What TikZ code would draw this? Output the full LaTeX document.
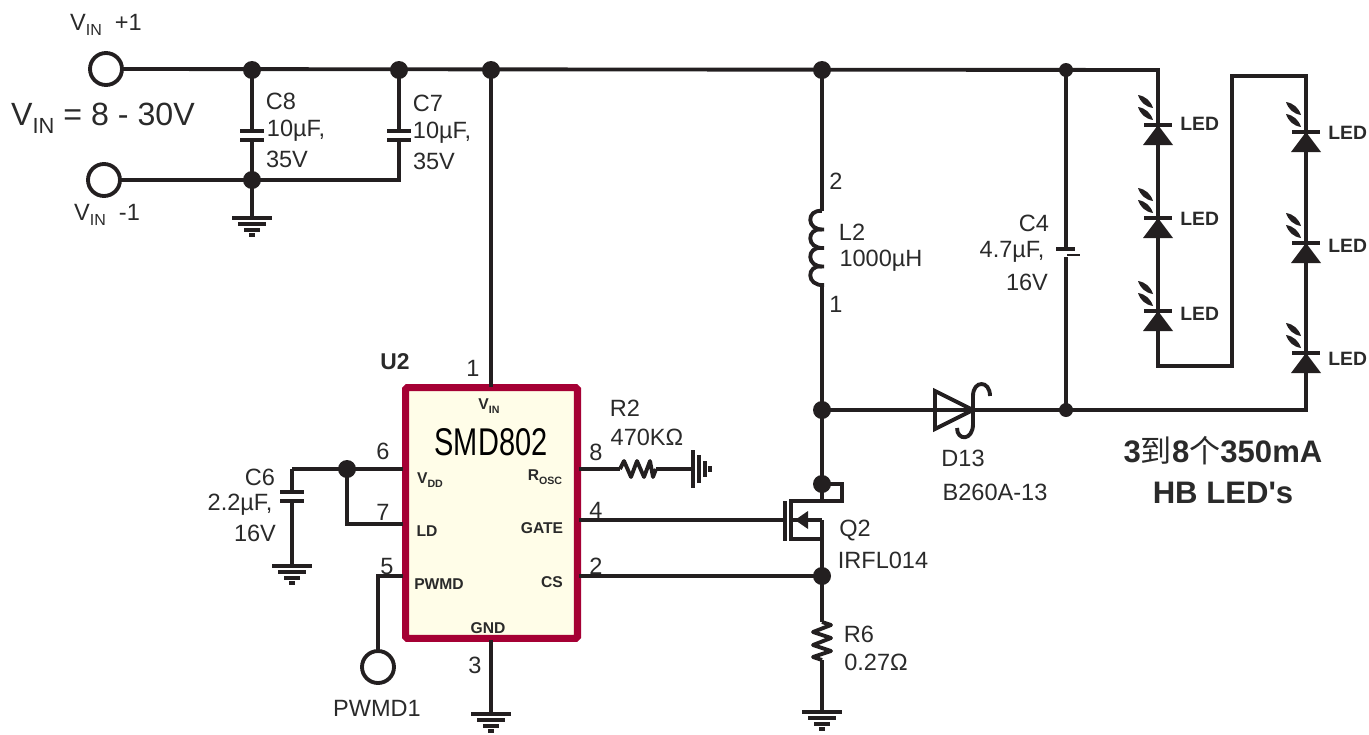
\documentclass[tikz,border=0pt]{standalone}
\usepackage{fontspec}
\setmainfont{Liberation Sans}
\newfontfamily\cjk{Noto Sans CJK SC}
\newfontfamily\plainsans{Liberation Sans}
\definecolor{icred}{HTML}{A50034}
\definecolor{icfill}{HTML}{FFFDE8}
\definecolor{inktext}{HTML}{2A2A2A}
\definecolor{ink}{HTML}{231F20}
\newcommand{\subtxt}[1]{\raisebox{-.45ex}{\fontsize{.68\dimexpr\fontdimen6\font\relax}{1em}\selectfont #1}}
\tikzset{
    wire/.style={draw=ink, line width=2.2pt, line join=miter},
    terminal/.style={draw=ink, line width=2.2pt},
    dot/.style={fill=ink},
    lbl/.style={text=inktext, font=\fontsize{13.4}{15}\selectfont, inner sep=0pt},
    pinlbl/.style={text=inktext, font=\fontsize{8.9}{10}\selectfont\bfseries, inner sep=0pt},
    boldlbl/.style={text=inktext, font=\fontsize{11}{13}\selectfont\bfseries, inner sep=0pt},
    bigbold/.style={text=inktext, font=\fontsize{17.7}{20}\selectfont\bfseries, inner sep=0pt},
}
\begin{document}
\begin{tikzpicture}[x=0.02cm,y=-0.02cm]
    \useasboundingbox (0,0) rectangle (1369,734);

    % Define the points of the circuit
    \foreach \name/\x/\y in {termA/106/69, termB/104/180, termC/378/667,
        topC/252/70, topD/399/70, topE/491/70, topF/822/70, topG/1066/70, topH/1158/70,
        botC/252/180, botD/399/180, gndA/252/218, gndB/292/566, gndC/491/714, gndD/822/712, gndE/693/469,
        icTop/491/387, icBot/491/640, pinVdd/403/469, pinLd/403/524, pinPwm/403/576,
        pinRosc/579/469, pinGate/579/520, pinCs/579/576,
        vddJ/347/469, vddC/292/469, ldC/347/524, pwmC/378/576,
        indTop/822/211, indBot/822/285, midJ/822/410, drainJ/822/484, drainB/822/501, srcJ/822/576,
        srcT/822/520, gateB/785/520, resTop/822/622, resBot/822/660,
        rTwoL/620/469, rTwoR/656/469,
        dioA/935/410, dioK/973/410, midG/1066/410, capTop/1066/249, capBot/1066/257, endI/1306/410,
        colA/1158/366, colB/1232/366, colC/1232/76, colD/1306/76,
        ledA/1158/125, ledB/1158/218, ledC/1158/311, ledD/1306/132, ledE/1306/243, ledF/1306/353}
    {
        \coordinate (\name) at (\x,\y);
    }

    % Draw the chip
    \node[draw=icred, fill=icfill, line width=4pt, rounded corners=1pt, minimum width=3.44cm, minimum height=5.02cm, inner sep=0pt] (smd) at (491.5,513) {};

    % Draw the wires
    \draw[wire] (termA) ++(16,0) -- (topH) -- (colA) -- (colB) -- (colC) -- (colD) -- (endI) -- (midJ) -- (dioA);
    \draw[wire] (termB) ++(16,0) -- (botC) -- (botD) -- (topD);
    \draw[wire] (topC) -- (gndA);
    \draw[wire] (topE) -- (icTop);
    \draw[wire] (icBot) -- (gndC);
    \draw[wire] (topF) -- (indTop);
    \draw[wire] (indBot) -- (midJ) -- (drainB);
    \draw[wire] (srcT) -- (srcJ) -- (resTop);
    \draw[wire] (resBot) -- (gndD);
    \draw[wire] (topG) -- (capTop);
    \draw[wire] (capBot) -- (midG);
    \draw[wire] (vddC) -- (pinVdd);
    \draw[wire] (vddC) -- (gndB);
    \draw[wire] (vddJ) -- (ldC) -- (pinLd);
    \draw[wire] (pinPwm) -- (pwmC) -- (termC);
    \draw[wire] (pinRosc) -- (rTwoL);
    \draw[wire] (rTwoR) -- (gndE);
    \draw[wire] (pinGate) -- (gateB);
    \draw[wire] (pinCs) -- (srcJ);

    % Draw the terminals
    \foreach \name in {termA, termB, termC}
    {
        \draw[terminal, fill=white] (\name) circle(16);
    }

    % Draw the junction dots
    \foreach \name in {topC, topD, topE, topF, botC, vddJ, midJ, drainJ, srcJ}
    {
        \fill[dot] (\name) circle(9);
    }
    \foreach \name in {topG, midG}
    {
        \fill[dot] (\name) circle(7);
    }

    % Capacitors
    \foreach \x/\y in {252/131, 399/131, 292/492}
    {
        \fill[white] (\x-16,\y+1) rectangle (\x+16,\y+9);
        \draw[wire] (\x-12,\y) -- (\x+12,\y);
        \draw[wire] (\x-12,\y+9) -- (\x+12,\y+9);
    }
    \draw[wire] ([xshift=-0.2cm]capTop) -- ([xshift=0.18cm]capTop);
    \draw[draw=ink, line width=1.3pt] (1067,255) -- (1080,255);

    % Grounds
    \foreach \name in {gndA, gndB, gndC, gndD}
    {
        \begin{scope}[shift={(\name)}]
            \draw[wire] (-20,0) -- (20,0);
            \draw[wire] (-14,6) -- (14,6);
            \draw[wire] (-8,12) -- (8,12);
            \draw[wire] (-3,17) -- (3,17);
        \end{scope}
    }
    \begin{scope}[shift={(gndE)}]
        \draw[wire] (0,-19) -- (0,19);
        \draw[wire] (6,-14) -- (6,14);
        \draw[wire] (12,-8) -- (12,8);
        \draw[wire] (17,-3) -- (17,3);
    \end{scope}

    % Inductor
    \foreach \y in {211,229.5,248,266.5}
    {
        \draw[wire] (822,\y) .. controls (806,\y-2) and (806,\y+20) .. (824,\y+18.5);
    }

    % Resistors
    \draw[wire, line join=round] (resTop) -- (831,625) -- (813,632) -- (831,638) -- (813,645) -- (831,651) -- (813,657) -- (resBot);
    \draw[wire, line join=round] (rTwoL) -- (624,461) -- (631,477) -- (637,461) -- (644,477) -- (650,461) -- (653,477) -- (rTwoR);

    % MOSFET
    \draw[wire] (drainJ) -- (842,484) -- (842,501) -- (791,501) -- (791,539) -- (822,539);
    \draw[wire] (srcT) -- (791,520);
    \draw[draw=ink, line width=2.6pt] (785,501) -- (785,541);
    \fill[dot] (795,520) -- (808,511) -- (808,529) -- cycle;

    % Diode
    \draw[wire] (dioA) ++(0,-19) -- ++(0,38) -- (dioK) -- cycle;
    \draw[wire] (dioK) -- (midG);
    \draw[wire] (990,396) .. controls (990,380) and (973,380) .. (973,396) -- (973,424) .. controls (973,441) and (957,441) .. (957,428);

    % LEDs
    \foreach \name/\ly in {ledA/124, ledB/219, ledC/314, ledD/133, ledE/246, ledF/359}
    {
        \begin{scope}[shift={(\name)}]
            \draw[wire] (-14,0) -- (14,0);
            \fill[dot, line join=round] (0,0) -- (15,20) -- (-15,20) -- cycle;
            \foreach \dy in {-30,-18}
            {
                \fill[dot] (-20,\dy) .. controls (-12.4,\dy+1.3) and (-7.4,\dy+5.7) .. (-5,\dy+13) .. controls (-12.6,\dy+11.7) and (-17.6,\dy+7.3) .. cycle;
            }
        \end{scope}
        \node[boldlbl, anchor=west] (lbl\name) at ([xshift=0.44cm]\name |- 0,\ly) {LED};
    }

    % Labels
    \foreach \name/\x/\y/\txt in {nVa/106/25/{V\subtxt{IN}\ \ +1}, nVb/107/215/{V\subtxt{IN}\ \ -1},
        nCa/281/101/C8, nCb/296/131/{10µF,}, nCc/287/159/35V,
        nCd/428/103/C7, nCe/442/133/{10µF,}, nCf/434/161/35V,
        nOne/473/368/1, nSix/383/451/6, nSev/383/512/7, nFiv/387/567/5,
        nEig/596/452/8, nFou/596/510/4, nTwo/596/566/2, nThr/475/665/3,
        nRa/625/408/R2, nRb/647/437/470KΩ,
        nCg/260/477/C6, nCh/240/505/{2.2µF,}, nCi/255/533/16V,
        nPw/377/708/PWMD1, nLa/836/181/2, nLb/852/232/L2, nLc/881/261/1000µH, nLd/836/304/1,
        nCj/1034/223/C4, nCk/1012/252/{4.7µF,}, nCl/1027/282/16V,
        nDa/963/458/D13, nDb/995/492/B260A-13, nQa/855/530/Q2, nQb/883/560/IRFL014,
        nRc/859/634/R6, nRd/876/662/0.27Ω}
    {
        \node[lbl] (\name) at (\x,\y) {\txt};
    }
    \node[lbl, font=\fontsize{18.3}{20}\selectfont] (vrange) at (103,118) {V\subtxt{IN} = 8 - 30V};
    \node[lbl, font=\fontsize{22}{24}\selectfont, text=black, xscale=0.75] (chip) at (491,442) {SMD802};

    % Pin labels on the chip
    \foreach \name/\x/\y/\txt in {pVin/489/406/{V\subtxt{IN}}, pVdd/430/480/{V\subtxt{DD}}, pRosc/545/477/{R\subtxt{OSC}},
        pLd/427/531/LD, pGate/542/528/GATE, pPwm/439/584/PWMD, pCs/552/582/CS, pGnd/488/628/GND}
    {
        \node[pinlbl] (\name) at (\x,\y) {\txt};
    }
    \node[boldlbl, font=\fontsize{13}{15}\selectfont\bfseries] (uTwo) at (395,362) {U2};
    \node[bigbold, align=center] (ledtxt) at (1223,470) {3{\cjk\mdseries 到}8{\cjk\mdseries 个}350mA\\[3pt]HB LED{\plainsans\bfseries '}s};
\end{tikzpicture}
\end{document}
